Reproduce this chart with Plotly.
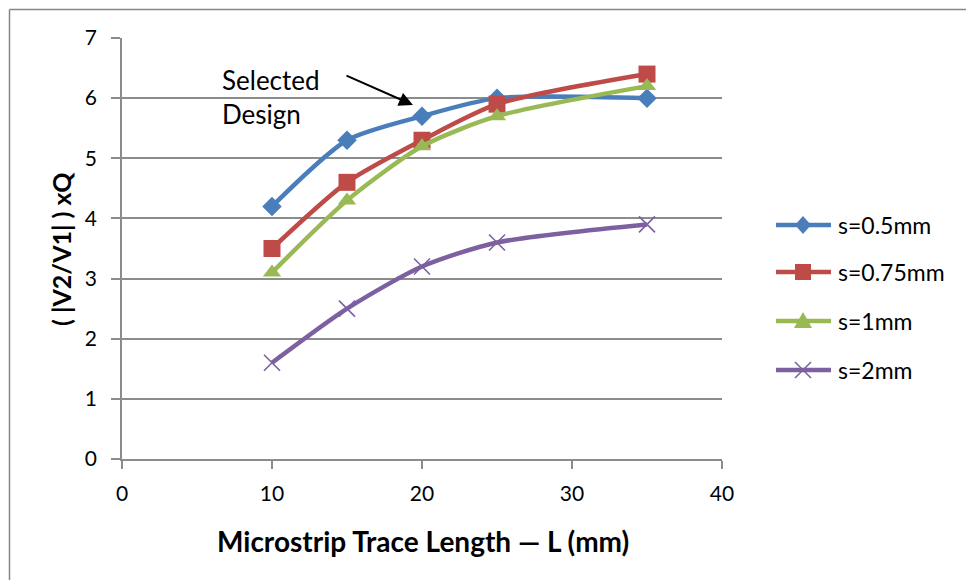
import plotly.graph_objects as go

# Trace length L (mm)
lengths = [10, 15, 20, 25, 35]

# (|V2/V1|) x Q for each spacing s
s_05 = [4.2, 5.3, 5.7, 6.0, 6.0]
s_075 = [3.5, 4.6, 5.3, 5.9, 6.4]
s_1 = [3.1, 4.3, 5.2, 5.7, 6.2]
s_2 = [1.6, 2.5, 3.2, 3.6, 3.9]

series_names = ["s=0.5mm", "s=0.75mm", "s=1mm", "s=2mm"]
x_ticks = [0, 10, 20, 30, 40]
y_ticks = [0, 1, 2, 3, 4, 5, 6, 7]

W, H = 966, 580
L_M, R_M, T_M, B_M = 122, 244, 38, 121
FONT = "Lato, Carlito, Calibri, sans-serif"
GRID = "#8c8c8c"

styles = [
    dict(color="#4A7EBB", symbol="diamond", size=15, line=dict(width=0), key="diamond"),
    dict(color="#BE4B48", symbol="square", size=17, line=dict(width=0), key="square"),
    dict(color="#98B954", symbol="triangle-up", size=16, line=dict(width=0), key="triangle"),
    dict(color="#7D60A0", symbol="x-thin-open", size=16, line=dict(width=1.6, color="#7D60A0"), key="x"),
]

fig = go.Figure()
for name, vals, st in zip(series_names, [s_05, s_075, s_1, s_2], styles):
    fig.add_trace(go.Scatter(
        x=lengths, y=vals, name=name, showlegend=False,
        mode="lines+markers",
        line=dict(color=st["color"], width=4.5, shape="spline", smoothing=0.7),
        marker=dict(symbol=st["symbol"], size=st["size"], color=st["color"], line=st["line"]),
    ))

# helpers to place chart-frame elements in pixel terms
def px_x(px):
    return (px - L_M) / (W - L_M - R_M)

def px_y(py):
    return (H - B_M - py) / (H - T_M - B_M)

def path(points, close=True):
    parts = [f"{'M' if i == 0 else 'L'}{px_x(x):.5f},{px_y(y):.5f}" for i, (x, y) in enumerate(points)]
    return " ".join(parts) + (" Z" if close else "")

def key_symbol(kind, cx, cy, color):
    # legend marker glyphs as paper-space paths
    if kind == "diamond":
        pts = [(cx, cy - 9), (cx + 8, cy), (cx, cy + 9), (cx - 8, cy)]
        return [dict(type="path", path=path(pts), fillcolor=color, line=dict(width=0))]
    if kind == "square":
        pts = [(cx - 8, cy - 8), (cx + 8, cy - 8), (cx + 8, cy + 8), (cx - 8, cy + 8)]
        return [dict(type="path", path=path(pts), fillcolor=color, line=dict(width=0))]
    if kind == "triangle":
        pts = [(cx, cy - 9), (cx + 9, cy + 7), (cx - 9, cy + 7)]
        return [dict(type="path", path=path(pts), fillcolor=color, line=dict(width=0))]
    d = 8
    return [
        dict(type="path", path=path([(cx - d, cy - d), (cx + d, cy + d)], close=False),
             line=dict(color=color, width=1.6)),
        dict(type="path", path=path([(cx - d, cy + d), (cx + d, cy - d)], close=False),
             line=dict(color=color, width=1.6)),
    ]

shapes = [
    dict(type="line", xref="paper", yref="paper", x0=px_x(9.5), x1=px_x(966), y0=px_y(9.5), y1=px_y(9.5),
         line=dict(color="#868686", width=1.5)),
    dict(type="line", xref="paper", yref="paper", x0=px_x(9.5), x1=px_x(9.5), y0=px_y(9.5), y1=px_y(580),
         line=dict(color="#868686", width=1.5)),
]

annotations = [
    dict(text="Selected<br>Design", xref="paper", yref="paper", x=px_x(220), y=px_y(97),
         xanchor="left", yanchor="middle", align="left", showarrow=False,
         font=dict(family=FONT, size=26, color="#000000")),
    dict(text="", xref="paper", yref="paper", x=px_x(413), y=px_y(105), ax=-68, ay=-30,
         showarrow=True, arrowhead=2, arrowsize=1.4, arrowwidth=2, arrowcolor="#000000"),
    dict(text="<b>( |V2/V1| ) xQ</b>", xref="paper", yref="paper", x=px_x(61), y=px_y(249),
         xanchor="center", yanchor="middle", textangle=-90, showarrow=False,
         font=dict(family=FONT, size=25, color="#000000")),
    dict(text="<b>Microstrip Trace Length — L (mm)</b>", xref="paper", yref="paper",
         x=px_x(423), y=px_y(541), xanchor="center", yanchor="middle", showarrow=False,
         font=dict(family=FONT, size=28, color="#000000")),
]

# legend keys drawn beside the plot: line segment, marker and label per series
legend_x0, legend_x1, legend_mx, legend_tx = 776, 831, 803, 836
legend_rows = [225, 272, 321, 370]
for name, st, row in zip(series_names, styles, legend_rows):
    shapes.append(dict(type="line", xref="paper", yref="paper",
                       x0=px_x(legend_x0), x1=px_x(legend_x1), y0=px_y(row), y1=px_y(row),
                       line=dict(color=st["color"], width=4.5)))
    for s in key_symbol(st["key"], legend_mx, row, st["color"]):
        s.update(xref="paper", yref="paper")
        shapes.append(s)
    annotations.append(dict(text=name, xref="paper", yref="paper", x=px_x(legend_tx), y=px_y(row),
                            xanchor="left", yanchor="middle", showarrow=False,
                            font=dict(family=FONT, size=23, color="#000000")))

fig.update_layout(
    width=W, height=H,
    margin=dict(l=L_M, r=R_M, t=T_M, b=B_M),
    paper_bgcolor="white", plot_bgcolor="white",
    font=dict(family=FONT, size=21, color="#000000"),
    shapes=shapes, annotations=annotations, showlegend=False,
    xaxis=dict(range=[0, 40], tickvals=x_ticks, showgrid=False, zeroline=False,
               showline=True, linecolor=GRID, linewidth=1.5,
               ticks="outside", ticklen=8, tickcolor=GRID, tickwidth=1.5,
               tickfont=dict(family=FONT, size=21), ticklabelstandoff=7),
    yaxis=dict(range=[0, 7], tickvals=y_ticks, showgrid=True, gridcolor=GRID, gridwidth=1.5,
               zeroline=False, showline=True, linecolor=GRID, linewidth=1.5,
               ticks="outside", ticklen=9, tickcolor=GRID, tickwidth=1.5,
               tickfont=dict(family=FONT, size=21), ticklabelstandoff=10),
)

fig.write_html("out.html")
